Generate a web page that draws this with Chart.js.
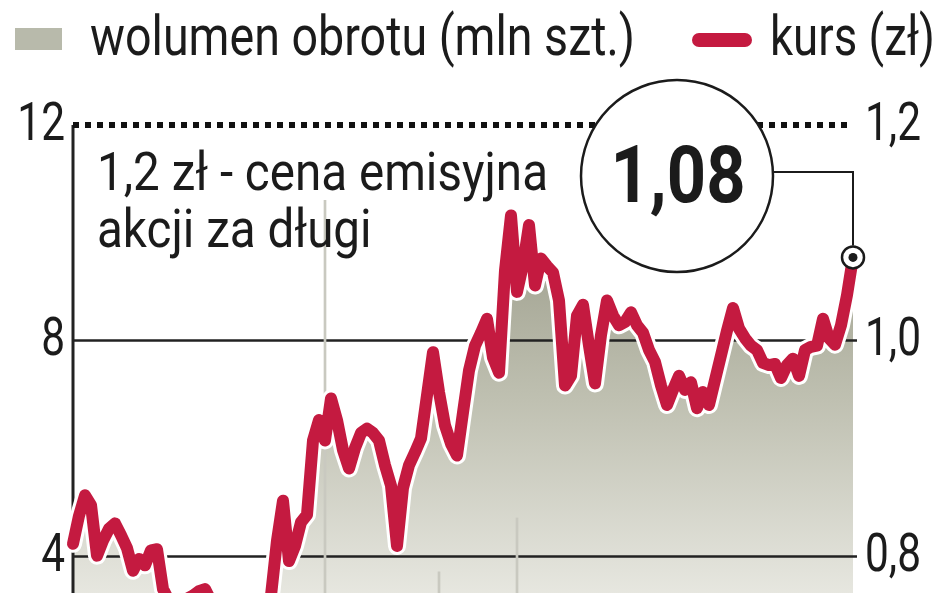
<!DOCTYPE html>
<html>
<head>
<meta charset="utf-8">
<script src="https://cdn.jsdelivr.net/npm/chart.js@4.4.1/dist/chart.umd.min.js"></script>
<style>
  html, body { margin: 0; padding: 0; background: #fff; overflow: hidden; }
  canvas { display: block; }
</style>
</head>
<body>
<canvas id="chart" width="948" height="800"></canvas>
<script>
  // kurs (zł), one value per session
  const price = [
    0.811, 0.837, 0.856, 0.847, 0.800, 0.814, 0.825, 0.830, 0.819, 0.807,
    0.786, 0.797, 0.791, 0.805, 0.806, 0.769, 0.758, 0.758, 0.756, 0.760,
    0.763, 0.767, 0.769, 0.758, 0.753, 0.749, 0.747, 0.747, 0.745, 0.744,
    0.747, 0.749, 0.753, 0.763, 0.814, 0.851, 0.795, 0.809, 0.831, 0.838,
    0.907, 0.926, 0.907, 0.946, 0.926, 0.898, 0.881, 0.900, 0.914, 0.918,
    0.914, 0.907, 0.884, 0.865, 0.809, 0.863, 0.884, 0.896, 0.909, 0.949,
    0.989, 0.952, 0.921, 0.904, 0.893, 0.933, 0.972, 0.995, 1.007, 1.020,
    0.984, 0.970, 1.065, 1.116, 1.045, 1.070, 1.107, 1.051, 1.076, 1.069,
    1.063, 1.037, 0.958, 0.967, 1.023, 1.033, 0.995, 0.960, 1.005, 1.037,
    1.023, 1.014, 1.017, 1.026, 1.014, 1.007, 0.991, 0.980, 0.958, 0.940,
    0.954, 0.967, 0.954, 0.961, 0.937, 0.952, 0.940, 0.963, 0.986, 1.009,
    1.030, 1.011, 1.002, 0.995, 0.991, 0.979, 0.977, 0.978, 0.965, 0.977,
    0.983, 0.967, 0.991, 0.994, 0.995, 1.020, 1.002, 0.996, 1.014, 1.042, 1.077
  ];

  // wolumen obrotu (mln szt.) - only the three spikes are visible, rest is low
  const volume = [
    1.2, 0.9, 1.4, 0.8, 1.0, 0.7, 0.6, 0.8, 0.7, 0.5,
    0.6, 0.5, 0.4, 0.6, 0.5, 0.4, 0.3, 0.4, 0.3, 0.3,
    0.4, 0.3, 0.3, 0.4, 0.3, 0.3, 0.2, 0.3, 0.3, 0.2,
    0.3, 0.3, 0.4, 0.6, 1.8, 2.2, 1.0, 0.9, 1.1, 1.2,
    2.5, 2.0, 10.6, 2.4, 1.6, 1.2, 1.0, 1.1, 0.9, 0.8,
    0.8, 0.7, 0.9, 1.0, 1.6, 1.3, 1.1, 0.9, 1.0, 1.8,
    2.2, 3.7, 1.5, 1.1, 1.0, 1.3, 1.6, 1.4, 1.5, 1.7,
    1.2, 1.1, 2.6, 3.1, 4.7, 2.0, 2.2, 1.5, 1.4, 1.2,
    1.1, 1.0, 1.6, 1.2, 1.1, 1.0, 0.9, 1.1, 0.9, 1.0,
    0.8, 0.7, 0.7, 0.8, 0.7, 0.6, 0.7, 0.6, 0.8, 0.9,
    0.7, 0.6, 0.6, 0.5, 0.7, 0.6, 0.6, 0.5, 0.7, 0.8,
    1.0, 0.7, 0.6, 0.5, 0.5, 0.4, 0.5, 0.4, 0.5, 0.4,
    0.5, 0.4, 0.5, 0.5, 0.4, 0.7, 0.5, 0.5, 0.6, 1.2, 1.9
  ];

  const sessions = price.map((_, i) => i + 1);
  const volumeTicks = [4, 8, 12];
  const priceTicks = [0.8, 1.0, 1.2];
  const lastPriceLabel = '1,08';
  const issueNote = ['1,2 zł - cena emisyjna', 'akcji za długi'];
  const legendLabels = ['wolumen obrotu (mln szt.)', 'kurs (zł)'];

  const RED = '#c41a40';
  const INK = '#1b1b1b';
  const FONT = 'Roboto, "Liberation Sans", sans-serif';

  // canvas has no font-stretch, so squeeze the text horizontally instead
  function drawText(ctx, text, x, y, font, sx, align) {
    ctx.save();
    ctx.font = font;
    ctx.textAlign = 'left';
    ctx.textBaseline = 'alphabetic';
    let w = ctx.measureText(text).width * sx;
    let x0 = align === 'right' ? x - w : align === 'center' ? x - w / 2 : x;
    ctx.translate(x0, y);
    ctx.scale(sx, 1);
    ctx.fillStyle = INK;
    ctx.fillText(text, 0, 0);
    ctx.restore();
  }

  function squeezeFor(ctx, text, font, width) {
    ctx.save();
    ctx.font = font;
    let w = ctx.measureText(text).width;
    ctx.restore();
    return width / w;
  }

  function fillGradient(context) {
    let chart = context.chart;
    if (!chart.chartArea) return '#b5b6a6';
    let g = chart.ctx.createLinearGradient(0, 220, 0, 620);
    g.addColorStop(0, '#9c9d8b');
    g.addColorStop(0.45, '#bfc0b1');
    g.addColorStop(1, '#ececE6');
    return g;
  }

  const gridPlugin = {
    id: 'grid',
    beforeDatasetsDraw(chart) {
      let { ctx, chartArea, scales } = chart;
      let yv = scales.y;
      ctx.save();
      // solid gridlines at 4 and 8
      ctx.strokeStyle = '#222';
      ctx.lineWidth = 2.5;
      volumeTicks.slice(0, 2).forEach(v => {
        let y = Math.round(yv.getPixelForValue(v)) + 0.5;
        ctx.beginPath();
        ctx.moveTo(chartArea.left, y);
        ctx.lineTo(chartArea.right + 4, y);
        ctx.stroke();
      });
      // left axis
      ctx.lineWidth = 3;
      ctx.beginPath();
      ctx.moveTo(chartArea.left, yv.getPixelForValue(12));
      ctx.lineTo(chartArea.left, chartArea.bottom);
      ctx.stroke();
      // dotted line at 12 / 1,2 zł
      let yTop = yv.getPixelForValue(12);
      ctx.strokeStyle = '#111';
      ctx.lineWidth = 6;
      ctx.setLineDash([6, 6]);
      ctx.beginPath();
      ctx.moveTo(chartArea.left, yTop);
      ctx.lineTo(chartArea.right - 2, yTop);
      ctx.stroke();
      ctx.restore();
    }
  };

  const labelsPlugin = {
    id: 'labels',
    afterDatasetsDraw(chart) {
      let { ctx, scales } = chart;
      let tickFont = '400 53px ' + FONT;

      volumeTicks.forEach(v => {
        drawText(ctx, String(v), 65, scales.y.getPixelForValue(v) + 15, tickFont, 0.8, 'right');
      });
      priceTicks.forEach(p => {
        let txt = p.toFixed(1).replace('.', ',');
        drawText(ctx, txt, 865, scales.yPrice.getPixelForValue(p) + 15, tickFont, 0.8, 'left');
      });

      // note under the dotted line
      let noteFont = '400 53px ' + FONT;
      let sxNote = squeezeFor(ctx, issueNote[0], noteFont, 451);
      drawText(ctx, issueNote[0], 97, 190, noteFont, sxNote, 'left');
      drawText(ctx, issueNote[1], 97, 247, noteFont, sxNote, 'left');

      // legend
      let legFont = '400 56px ' + FONT;
      ctx.save();
      ctx.fillStyle = '#b8baab';
      ctx.fillRect(15, 28, 47, 22);
      ctx.strokeStyle = RED;
      ctx.lineWidth = 14;
      ctx.lineCap = 'round';
      ctx.beginPath();
      ctx.moveTo(699, 40);
      ctx.lineTo(745, 40);
      ctx.stroke();
      ctx.restore();
      drawText(ctx, legendLabels[0], 90, 55, legFont, squeezeFor(ctx, legendLabels[0], legFont, 545), 'left');
      drawText(ctx, legendLabels[1], 770, 55, legFont, squeezeFor(ctx, legendLabels[1], legFont, 165), 'left');

      // callout for the last price
      let meta = chart.getDatasetMeta(2);
      let last = meta.data[meta.data.length - 1];
      let cx = 677, cy = 176, r = 96;
      ctx.save();
      ctx.strokeStyle = INK;
      ctx.lineWidth = 2;
      ctx.beginPath();
      ctx.moveTo(cx + r, 172);
      ctx.lineTo(last.x, 172);
      ctx.lineTo(last.x, last.y - 12);
      ctx.stroke();
      ctx.fillStyle = '#fff';
      ctx.lineWidth = 2.5;
      ctx.beginPath();
      ctx.arc(cx, cy, r, 0, Math.PI * 2);
      ctx.fill();
      ctx.stroke();
      // marker on the last point
      ctx.beginPath();
      ctx.arc(last.x, last.y, 11, 0, Math.PI * 2);
      ctx.fill();
      ctx.lineWidth = 2.5;
      ctx.stroke();
      ctx.fillStyle = INK;
      ctx.beginPath();
      ctx.arc(last.x, last.y, 4.5, 0, Math.PI * 2);
      ctx.fill();
      ctx.restore();
      let bigFont = '700 80px ' + FONT;
      drawText(ctx, lastPriceLabel, 678, 202, bigFont, squeezeFor(ctx, lastPriceLabel, bigFont, 135), 'center');
    }
  };

  new Chart(document.getElementById('chart'), {
    data: {
      labels: sessions,
      datasets: [
        {
          type: 'bar',
          label: legendLabels[0],
          data: volume,
          yAxisID: 'y',
          backgroundColor: '#c9c9c0',
          barThickness: 2,
          order: 3
        },
        {
          // white halo + grey area under the price
          type: 'line',
          label: 'halo',
          data: price,
          yAxisID: 'yPrice',
          borderColor: '#ffffff',
          borderWidth: 18,
          borderJoinStyle: 'round',
          borderCapStyle: 'round',
          backgroundColor: fillGradient,
          fill: 'start',
          pointRadius: 0,
          tension: 0,
          clip: false,
          order: 2
        },
        {
          type: 'line',
          label: legendLabels[1],
          data: price,
          yAxisID: 'yPrice',
          borderColor: RED,
          borderWidth: 12,
          borderJoinStyle: 'round',
          borderCapStyle: 'round',
          fill: false,
          pointRadius: 0,
          tension: 0,
          clip: false,
          order: 1
        }
      ]
    },
    options: {
      responsive: false,
      animation: false,
      layout: { padding: { left: 73, right: 95, top: 125, bottom: 29 } },
      scales: {
        x: { type: 'category', display: false, offset: false },
        y: { display: false, min: 0, max: 12 },
        yPrice: { display: false, min: 0.6, max: 1.2, position: 'right' }
      },
      plugins: {
        legend: { display: false },
        tooltip: { enabled: false },
        filler: { drawTime: 'beforeDraw' }
      }
    },
    plugins: [gridPlugin, labelsPlugin]
  });
</script>
</body>
</html>
